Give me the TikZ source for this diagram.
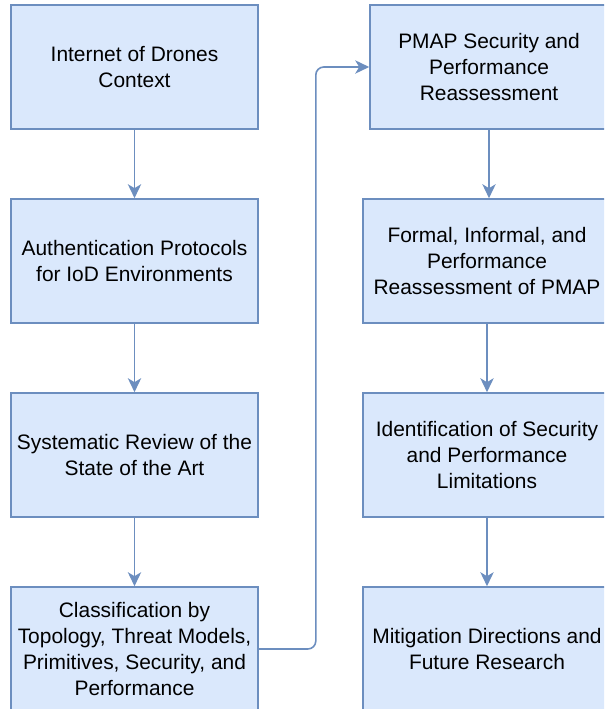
\documentclass[tikz,border=0pt]{standalone}
\usepackage{xcolor}
\usepackage{fontspec}
\setmainfont{Liberation Sans}
\usepackage{tikz}
\usetikzlibrary{arrows.meta}

\definecolor{boxfill}{HTML}{DAE8FC}
\definecolor{boxline}{HTML}{6C8EBF}

\begin{document}
\begin{tikzpicture}[x=0.75pt, y=-0.75pt,
  stage/.style={draw=boxline, fill=boxfill, line width=1.2pt, minimum width=185.25pt,
    minimum height=93pt, inner sep=0pt, align=center, font=\fontsize{15.7}{19.5}\selectfont},
  flow/.style={draw=boxline, line width=1.2pt, -{Stealth[length=10.5pt, width=10pt, inset=3pt]}}]
\useasboundingbox (0,0) rectangle (604,709);
\clip (0,0) rectangle (604,709);

% Left column
\node[stage] (iod)  at (134.5, 67)  {Internet of Drones\\Context};
\node[stage] (auth) at (134.5, 261) {Authentication Protocols\\for IoD Environments};
\node[stage] (rev)  at (134.5, 455) {Systematic Review of the\\State of the Art};
\node[stage] (cls)  at (134.5, 649) {Classification by\\Topology, Threat Models,\\Primitives, Security, and\\Performance};

% Right column
\node[stage, minimum width=178.5pt] (pmap) at (489, 67) {PMAP Security and\\Performance\\Reassessment};
\node[stage, minimum width=186pt] (formal) at (487, 261) {Formal, Informal, and\\Performance\\Reassessment of PMAP};
\node[stage, minimum width=186pt] (limit)  at (487, 455) {Identification of Security\\and Performance\\Limitations};
\node[stage, minimum width=186pt] (future) at (487, 649) {Mitigation Directions and\\Future Research};

% Arrows
\draw[flow] (iod) -- (auth);
\draw[flow] (auth) -- (rev);
\draw[flow] (rev) -- (cls);
\draw[flow, rounded corners=6pt] (cls.east) -- ++(57,0) |- (pmap.west);
\draw[flow] (pmap.south) -- (pmap.south |- formal.north);
\draw[flow] (formal) -- (limit);
\draw[flow] (limit) -- (future);
\end{tikzpicture}
\end{document}
